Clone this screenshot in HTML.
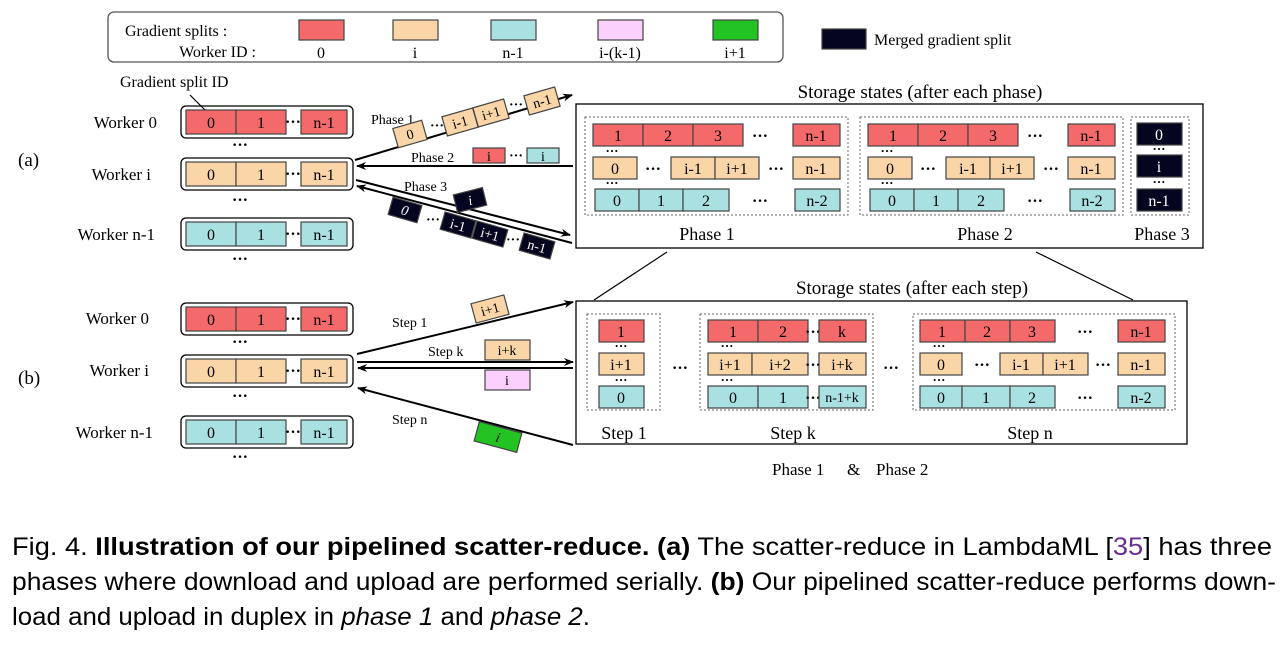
<!DOCTYPE html>
<html><head><meta charset="utf-8"><style>
html,body{margin:0;padding:0;background:#fff;}
svg{display:block;}
text{font-family:"Liberation Serif",serif;font-size:16px;fill:#000;}
.c{text-anchor:middle;}
.d{font-weight:bold;}
.R{fill:#f46a6a;stroke:#444;stroke-width:1.2}
.T{fill:#f9d5a8;stroke:#444;stroke-width:1.2}
.C{fill:#a9e0e1;stroke:#444;stroke-width:1.2}
.P{fill:#fcd0fc;stroke:#444;stroke-width:1.2}
.G{fill:#22c322;stroke:#444;stroke-width:1.2}
.K{fill:#05051f;stroke:#444;stroke-width:1.2}
.box{fill:none;stroke:#000;stroke-width:1.3}
.dot{fill:none;stroke:#666;stroke-width:1;stroke-dasharray:2,2}
.ln{stroke:#000;stroke-width:2;fill:none}
.wl{font-size:17px}
.cap{font-family:"Liberation Sans",sans-serif;font-size:25px;}
</style></head><body>
<svg width="1286" height="656" viewBox="0 0 1286 656" xmlns="http://www.w3.org/2000/svg">
<defs><marker id="ah" markerWidth="10" markerHeight="8" refX="9" refY="4" orient="auto" markerUnits="userSpaceOnUse"><path d="M0,0 L10,4 L0,8 L3,4z" fill="#000"/></marker></defs>

<!-- legend -->
<rect x="108" y="12" width="675" height="50" rx="6" fill="#fff" stroke="#555" stroke-width="1.3"/>
<text x="125" y="36">Gradient splits :</text>
<text x="256" y="57" text-anchor="end">Worker ID :</text>
<rect class="R" x="299" y="20" width="45" height="20"/><text class="c" x="321" y="58">0</text>
<rect class="T" x="393" y="20" width="45" height="20"/><text class="c" x="415" y="58">i</text>
<rect class="C" x="491" y="20" width="45" height="20"/><text class="c" x="513" y="58">n-1</text>
<rect class="P" x="598" y="20" width="45" height="20"/><text class="c" x="620" y="58">i-(k-1)</text>
<rect class="G" x="713" y="20" width="45" height="20"/><text class="c" x="735" y="58">i+1</text>
<rect class="K" x="822" y="29" width="44" height="20"/><text x="874" y="45">Merged gradient split</text>

<text x="18" y="166" style="font-size:19px">(a)</text>
<text x="18" y="384" style="font-size:19px">(b)</text>

<!-- (a) workers -->
<text x="120" y="87">Gradient split ID</text>
<line x1="190" y1="95" x2="210" y2="115" stroke="#000" stroke-width="1.2"/>
<g>
<text class="wl" x="157" y="128" text-anchor="end">Worker 0</text>
<rect class="box" x="181" y="106" width="172" height="32" rx="5"/>
<rect class="R" x="186" y="110" width="50" height="24"/><text class="c" x="211" y="128">0</text>
<rect class="R" x="236" y="110" width="50" height="24"/><text class="c" x="261" y="128">1</text>
<text class="c d" x="293" y="127">···</text>
<rect class="R" x="301" y="110" width="46" height="24"/><text class="c" x="324" y="128">n-1</text>
<text class="c d" x="240" y="150">···</text>
</g>
<g>
<text class="wl" x="151" y="180" text-anchor="end">Worker i</text>
<rect class="box" x="181" y="158" width="172" height="32" rx="5"/>
<rect class="T" x="186" y="162" width="50" height="24"/><text class="c" x="211" y="180">0</text>
<rect class="T" x="236" y="162" width="50" height="24"/><text class="c" x="261" y="180">1</text>
<text class="c d" x="293" y="179">···</text>
<rect class="T" x="301" y="162" width="46" height="24"/><text class="c" x="324" y="180">n-1</text>
<text class="c d" x="240" y="205">···</text>
</g>
<g>
<text class="wl" x="155" y="240" text-anchor="end">Worker n-1</text>
<rect class="box" x="181" y="218" width="172" height="32" rx="5"/>
<rect class="C" x="186" y="222" width="50" height="24"/><text class="c" x="211" y="240">0</text>
<rect class="C" x="236" y="222" width="50" height="24"/><text class="c" x="261" y="240">1</text>
<text class="c d" x="293" y="239">···</text>
<rect class="C" x="301" y="222" width="46" height="24"/><text class="c" x="324" y="240">n-1</text>
<text class="c d" x="240" y="264">···</text>
</g>

<!-- (a) arrows -->
<line class="ln" x1="355" y1="160" x2="572" y2="95" marker-end="url(#ah)"/>
<text x="371" y="124" style="font-size:14px">Phase 1</text>
<g transform="translate(410,134) rotate(-16)"><rect class="T" x="-15" y="-10" width="30" height="20"/><text class="c" y="5" style="font-size:14px">0</text></g>
<text class="d" x="430" y="130" style="font-size:14px">···</text>
<g transform="translate(460,122) rotate(-16)"><rect class="T" x="-16" y="-10" width="32" height="20"/><text class="c" y="5" style="font-size:14px">i-1</text></g>
<g transform="translate(491,113) rotate(-16)"><rect class="T" x="-16" y="-10" width="32" height="20"/><text class="c" y="5" style="font-size:14px">i+1</text></g>
<text class="d" x="509" y="109" style="font-size:14px">···</text>
<g transform="translate(542,101) rotate(-16)"><rect class="T" x="-16" y="-10" width="32" height="20"/><text class="c" y="5" style="font-size:14px">n-1</text></g>

<line class="ln" x1="573" y1="166" x2="357" y2="166" marker-end="url(#ah)"/>
<text x="411" y="162" style="font-size:14px">Phase 2</text>
<rect class="R" x="473" y="148" width="32" height="15"/><text class="c" x="489" y="161" style="font-size:14px">i</text>
<text class="d" x="509" y="160" style="font-size:14px">···</text>
<rect class="C" x="527" y="148" width="32" height="15"/><text class="c" x="543" y="161" style="font-size:14px">i</text>

<line class="ln" x1="356" y1="180" x2="570" y2="235" marker-end="url(#ah)"/>
<line class="ln" x1="572" y1="243" x2="357" y2="186" marker-end="url(#ah)"/>
<text x="404" y="191" style="font-size:14px">Phase 3</text>
<g transform="translate(470,200) rotate(-14)"><rect class="K" x="-15" y="-9" width="30" height="18"/><text class="c" y="5" style="font-size:14px;fill:#fff;font-style:italic">i</text></g>
<g transform="translate(405,210) rotate(16)"><rect class="K" x="-15" y="-9" width="30" height="18"/><text class="c" y="5" style="font-size:14px;fill:#fff;font-style:italic">0</text></g>
<text class="d" x="426" y="224" style="font-size:14px">···</text>
<g transform="translate(458,225) rotate(16)"><rect class="K" x="-16" y="-9" width="32" height="18"/><text class="c" y="5" style="font-size:14px;fill:#fff">i-1</text></g>
<g transform="translate(490,234) rotate(16)"><rect class="K" x="-16" y="-9" width="32" height="18"/><text class="c" y="5" style="font-size:14px;fill:#fff">i+1</text></g>
<text class="d" x="506" y="244" style="font-size:14px">···</text>
<g transform="translate(537,246) rotate(16)"><rect class="K" x="-16" y="-9" width="32" height="18"/><text class="c" y="5" style="font-size:14px;fill:#fff">n-1</text></g>

<!-- (a) storage -->
<text class="c" x="920" y="98" style="font-size:19px">Storage states (after each phase)</text>
<rect class="box" x="576" y="104" width="627" height="144"/>
<g>
<rect class="dot" x="585" y="117" width="263" height="98"/>
<rect class="R" x="593" y="124" width="50" height="22"/><text class="c" x="618" y="141">1</text>
<rect class="R" x="643" y="124" width="50" height="22"/><text class="c" x="668" y="141">2</text>
<rect class="R" x="693" y="124" width="50" height="22"/><text class="c" x="718" y="141">3</text>
<text class="c d" x="760" y="141">···</text>
<rect class="R" x="793" y="124" width="47" height="22"/><text class="c" x="816" y="141">n-1</text>
<text class="c d" x="612" y="155" style="font-size:13px">···</text>
<rect class="T" x="593" y="157" width="44" height="22"/><text class="c" x="615" y="174">0</text>
<text class="c d" x="653" y="174">···</text>
<rect class="T" x="671" y="157" width="44" height="22"/><text class="c" x="693" y="174">i-1</text>
<rect class="T" x="715" y="157" width="44" height="22"/><text class="c" x="737" y="174">i+1</text>
<text class="c d" x="776" y="174">···</text>
<rect class="T" x="793" y="157" width="47" height="22"/><text class="c" x="816" y="174">n-1</text>
<text class="c d" x="612" y="187" style="font-size:13px">···</text>
<rect class="C" x="595" y="189" width="44" height="22"/><text class="c" x="617" y="206">0</text>
<rect class="C" x="639" y="189" width="44" height="22"/><text class="c" x="661" y="206">1</text>
<rect class="C" x="683" y="189" width="46" height="22"/><text class="c" x="706" y="206">2</text>
<text class="c d" x="760" y="206">···</text>
<rect class="C" x="795" y="189" width="45" height="22"/><text class="c" x="817" y="206">n-2</text>
<text class="c" x="707" y="240" style="font-size:18px">Phase 1</text>
</g>
<g transform="translate(275,0)">
<rect class="dot" x="585" y="117" width="263" height="98"/>
<rect class="R" x="593" y="124" width="50" height="22"/><text class="c" x="618" y="141">1</text>
<rect class="R" x="643" y="124" width="50" height="22"/><text class="c" x="668" y="141">2</text>
<rect class="R" x="693" y="124" width="50" height="22"/><text class="c" x="718" y="141">3</text>
<text class="c d" x="760" y="141">···</text>
<rect class="R" x="793" y="124" width="47" height="22"/><text class="c" x="816" y="141">n-1</text>
<text class="c d" x="612" y="155" style="font-size:13px">···</text>
<rect class="T" x="593" y="157" width="44" height="22"/><text class="c" x="615" y="174">0</text>
<text class="c d" x="653" y="174">···</text>
<rect class="T" x="671" y="157" width="44" height="22"/><text class="c" x="693" y="174">i-1</text>
<rect class="T" x="715" y="157" width="44" height="22"/><text class="c" x="737" y="174">i+1</text>
<text class="c d" x="776" y="174">···</text>
<rect class="T" x="793" y="157" width="47" height="22"/><text class="c" x="816" y="174">n-1</text>
<text class="c d" x="612" y="187" style="font-size:13px">···</text>
<rect class="C" x="595" y="189" width="44" height="22"/><text class="c" x="617" y="206">0</text>
<rect class="C" x="639" y="189" width="44" height="22"/><text class="c" x="661" y="206">1</text>
<rect class="C" x="683" y="189" width="46" height="22"/><text class="c" x="706" y="206">2</text>
<text class="c d" x="760" y="206">···</text>
<rect class="C" x="795" y="189" width="45" height="22"/><text class="c" x="817" y="206">n-2</text>
<text class="c" x="710" y="240" style="font-size:18px">Phase 2</text>
</g>
<rect class="dot" x="1131" y="117" width="58" height="98"/>
<rect class="K" x="1137" y="123" width="45" height="22"/><text class="c" x="1159" y="140" style="fill:#fff">0</text>
<text class="c d" x="1159" y="153" style="font-size:13px">···</text>
<rect class="K" x="1137" y="155" width="45" height="22"/><text class="c" x="1159" y="172" style="fill:#fff">i</text>
<text class="c d" x="1159" y="186" style="font-size:13px">···</text>
<rect class="K" x="1137" y="189" width="45" height="22"/><text class="c" x="1159" y="206" style="fill:#fff">n-1</text>
<text class="c" x="1162" y="240" style="font-size:18px">Phase 3</text>

<line x1="667" y1="252" x2="594" y2="300" stroke="#000" stroke-width="1.2"/>
<line x1="1036" y1="252" x2="1133" y2="300" stroke="#000" stroke-width="1.2"/>

<!-- (b) workers -->
<g>
<text class="wl" x="149" y="324" text-anchor="end">Worker 0</text>
<rect class="box" x="181" y="303" width="172" height="32" rx="5"/>
<rect class="R" x="186" y="307" width="50" height="24"/><text class="c" x="211" y="325">0</text>
<rect class="R" x="236" y="307" width="50" height="24"/><text class="c" x="261" y="325">1</text>
<text class="c d" x="293" y="324">···</text>
<rect class="R" x="301" y="307" width="46" height="24"/><text class="c" x="324" y="325">n-1</text>
<text class="c d" x="240" y="347">···</text>
</g>
<g>
<text class="wl" x="149" y="376" text-anchor="end">Worker i</text>
<rect class="box" x="181" y="355" width="172" height="32" rx="5"/>
<rect class="T" x="186" y="359" width="50" height="24"/><text class="c" x="211" y="377">0</text>
<rect class="T" x="236" y="359" width="50" height="24"/><text class="c" x="261" y="377">1</text>
<text class="c d" x="293" y="376">···</text>
<rect class="T" x="301" y="359" width="46" height="24"/><text class="c" x="324" y="377">n-1</text>
<text class="c d" x="240" y="401">···</text>
</g>
<g>
<text class="wl" x="153" y="438" text-anchor="end">Worker n-1</text>
<rect class="box" x="181" y="416" width="172" height="32" rx="5"/>
<rect class="C" x="186" y="420" width="50" height="24"/><text class="c" x="211" y="438">0</text>
<rect class="C" x="236" y="420" width="50" height="24"/><text class="c" x="261" y="438">1</text>
<text class="c d" x="293" y="437">···</text>
<rect class="C" x="301" y="420" width="46" height="24"/><text class="c" x="324" y="438">n-1</text>
<text class="c d" x="240" y="462">···</text>
</g>

<!-- (b) arrows -->
<line class="ln" x1="357" y1="354" x2="573" y2="302" marker-end="url(#ah)"/>
<text x="392" y="327" style="font-size:14px">Step 1</text>
<g transform="translate(490,309) rotate(-15)"><rect class="T" x="-17" y="-10" width="34" height="20"/><text class="c" y="5" style="font-size:14px">i+1</text></g>
<line class="ln" x1="357" y1="362" x2="573" y2="362" marker-end="url(#ah)"/>
<line class="ln" x1="573" y1="368" x2="358" y2="368" marker-end="url(#ah)"/>
<text x="428" y="356" style="font-size:14px">Step k</text>
<rect class="T" x="485" y="340" width="45" height="20"/><text class="c" x="507" y="355" style="font-size:14px">i+k</text>
<rect class="P" x="485" y="370" width="45" height="20"/><text class="c" x="507" y="385" style="font-size:14px">i</text>
<line class="ln" x1="573" y1="445" x2="358" y2="388" marker-end="url(#ah)"/>
<text x="392" y="424" style="font-size:14px">Step n</text>
<g transform="translate(498,437) rotate(15)"><rect class="G" x="-22" y="-10" width="44" height="20"/><text class="c" y="5" style="font-size:14px;font-style:italic">i</text></g>

<!-- (b) storage -->
<text class="c" x="912" y="294" style="font-size:19px">Storage states (after each step)</text>
<rect class="box" x="576" y="301" width="611" height="143"/>
<rect class="dot" x="587" y="314" width="73" height="96"/>
<rect class="R" x="599" y="320" width="45" height="22"/><text class="c" x="621" y="337">1</text>
<text class="c d" x="621" y="350" style="font-size:13px">···</text>
<rect class="T" x="599" y="353" width="45" height="22"/><text class="c" x="621" y="370">i+1</text>
<text class="c d" x="621" y="384" style="font-size:13px">···</text>
<rect class="C" x="599" y="386" width="45" height="22"/><text class="c" x="621" y="403">0</text>
<text class="c" x="624" y="439" style="font-size:18px">Step 1</text>
<text class="c d" x="680" y="373">···</text>

<rect class="dot" x="700" y="314" width="173" height="96"/>
<rect class="R" x="708" y="320" width="50" height="22"/><text class="c" x="733" y="337">1</text>
<rect class="R" x="758" y="320" width="50" height="22"/><text class="c" x="783" y="337">2</text>
<text class="c d" x="813" y="337">···</text>
<rect class="R" x="819" y="320" width="47" height="22"/><text class="c" x="842" y="337">k</text>
<text class="c d" x="727" y="350" style="font-size:13px">···</text>
<rect class="T" x="708" y="353" width="44" height="22"/><text class="c" x="730" y="370">i+1</text>
<rect class="T" x="752" y="353" width="56" height="22"/><text class="c" x="780" y="370">i+2</text>
<text class="c d" x="813" y="370">···</text>
<rect class="T" x="819" y="353" width="47" height="22"/><text class="c" x="842" y="370">i+k</text>
<text class="c d" x="727" y="384" style="font-size:13px">···</text>
<rect class="C" x="708" y="386" width="50" height="22"/><text class="c" x="733" y="403">0</text>
<rect class="C" x="758" y="386" width="50" height="22"/><text class="c" x="783" y="403">1</text>
<text class="c d" x="813" y="403">···</text>
<rect class="C" x="819" y="386" width="47" height="22"/><text class="c" x="842" y="402" style="font-size:14px">n-1+k</text>
<text class="c" x="793" y="439" style="font-size:18px">Step k</text>
<text class="c d" x="891" y="373">···</text>

<rect class="dot" x="913" y="314" width="262" height="96"/>
<rect class="R" x="920" y="320" width="45" height="22"/><text class="c" x="942" y="337">1</text>
<rect class="R" x="965" y="320" width="45" height="22"/><text class="c" x="987" y="337">2</text>
<rect class="R" x="1010" y="320" width="45" height="22"/><text class="c" x="1032" y="337">3</text>
<text class="c d" x="1085" y="337">···</text>
<rect class="R" x="1118" y="320" width="47" height="22"/><text class="c" x="1141" y="337">n-1</text>
<text class="c d" x="939" y="350" style="font-size:13px">···</text>
<rect class="T" x="920" y="353" width="42" height="22"/><text class="c" x="941" y="370">0</text>
<text class="c d" x="982" y="370">···</text>
<rect class="T" x="1000" y="353" width="43" height="22"/><text class="c" x="1021" y="370">i-1</text>
<rect class="T" x="1043" y="353" width="45" height="22"/><text class="c" x="1065" y="370">i+1</text>
<text class="c d" x="1103" y="370">···</text>
<rect class="T" x="1118" y="353" width="47" height="22"/><text class="c" x="1141" y="370">n-1</text>
<text class="c d" x="939" y="384" style="font-size:13px">···</text>
<rect class="C" x="920" y="386" width="42" height="22"/><text class="c" x="941" y="403">0</text>
<rect class="C" x="962" y="386" width="48" height="22"/><text class="c" x="986" y="403">1</text>
<rect class="C" x="1010" y="386" width="45" height="22"/><text class="c" x="1032" y="403">2</text>
<text class="c d" x="1085" y="403">···</text>
<rect class="C" x="1118" y="386" width="47" height="22"/><text class="c" x="1141" y="403">n-2</text>
<text class="c" x="1030" y="439" style="font-size:18px">Step n</text>

<text x="772" y="475" style="font-size:17px">Phase 1</text>
<text x="847" y="475" style="font-size:17px">&amp;</text>
<text x="876" y="475" style="font-size:17px">Phase 2</text>

<!-- caption -->
<text class="cap" x="12" y="555" textLength="1260" lengthAdjust="spacingAndGlyphs">Fig. 4.  <tspan font-weight="bold">Illustration of our pipelined scatter-reduce.</tspan> <tspan font-weight="bold">(a)</tspan> The scatter-reduce in LambdaML [<tspan style="fill:#6a2c91">35</tspan>] has three</text>
<text class="cap" x="12" y="590" textLength="1264" lengthAdjust="spacingAndGlyphs">phases where download and upload are performed serially. <tspan font-weight="bold">(b)</tspan> Our pipelined scatter-reduce performs down-</text>
<text class="cap" x="12" y="625" textLength="578" lengthAdjust="spacingAndGlyphs">load and upload in duplex in <tspan font-style="italic">phase 1</tspan> and <tspan font-style="italic">phase 2</tspan>.</text>
</svg>
</body></html>
